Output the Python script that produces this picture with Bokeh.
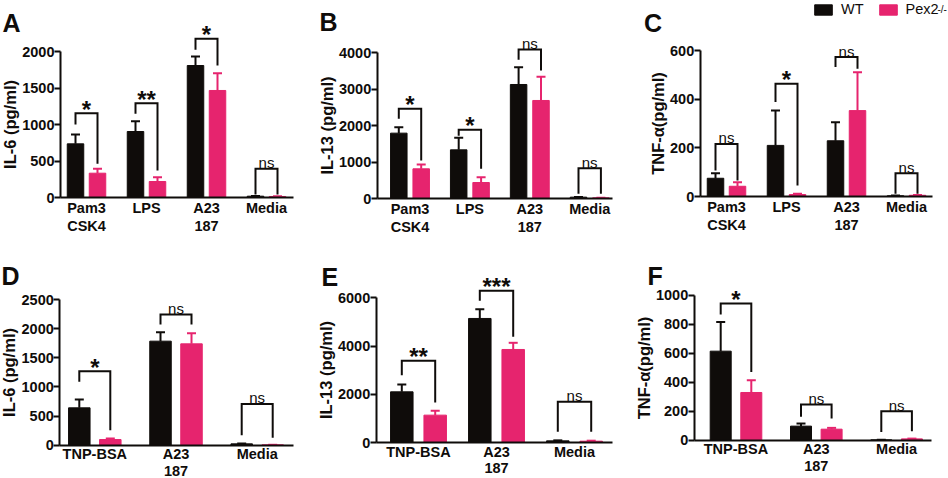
import numpy as np
from bokeh.plotting import figure
from bokeh.models import (ColumnDataSource, Whisker, TeeHead, Range1d, FixedTicker,
                          Label, Legend, LegendItem)
from bokeh.layouts import column, row
from bokeh.embed import file_html
from bokeh.resources import INLINE
from bokeh.core.properties import value

# ---------------- data ----------------
groups_top = ["Pam3\nCSK4", "LPS", "A23\n187", "Media"]
groups_bot = ["TNP-BSA", "A23\n187", "Media"]

a_wt = [735, 904, 1808, 18]
a_wt_err = [128, 142, 124, 4]
a_ko = [333, 219, 1466, 14]
a_ko_err = [60, 60, 237, 3]
a_sig = ["*", "**", "*", "ns"]
a_brk_top = [1155, 1292, 2173, 393]
a_brk_wt = [1000, 1146, 2023, 41]
a_brk_ko = [461, 370, 1808, 41]
a_ticks = [0, 500, 1000, 1500, 2000]

b_wt = [1794, 1336, 3130, 37]
b_wt_err = [165, 330, 476, 5]
b_ko = [815, 439, 2691, 18]
b_ko_err = [119, 147, 650, 5]
b_sig = ["*", "*", "ns", "ns"]
b_brk_top = [2462, 1886, 4092, 833]
b_brk_wt = [2188, 1720, 3808, 128]
b_brk_ko = [1043, 815, 3515, 128]
b_ticks = [0, 1000, 2000, 3000, 4000]

c_wt = [75, 210, 229, 3]
c_wt_err = [21, 143, 76, 1]
c_ko = [42, 8, 353, 5]
c_ko_err = [17, 3, 158, 1]
c_sig = ["ns", "*", "ns", "ns"]
c_brk_top = [216, 463, 573, 96]
c_brk_wt = [107, 388, 532, 11]
c_brk_ko = [66, 45, 525, 11]
c_ticks = [0, 200, 400, 600]

d_wt = [641, 1785, 23]
d_wt_err = [143, 154, 5]
d_ko = [97, 1739, 5]
d_ko_err = [17, 183, 2]
d_sig = ["*", "ns", "ns"]
d_brk_top = [1270, 2243, 709]
d_brk_wt = [1087, 2071, 172]
d_brk_ko = [257, 2071, 126]
d_ticks = [0, 500, 1000, 1500, 2000, 2500]

e_wt = [2101, 5143, 69]
e_wt_err = [305, 387, 20]
e_ko = [1134, 3857, 55]
e_ko_err = [179, 277, 20]
e_sig = ["**", "***", "ns"]
e_brk_top = [3387, 6290, 1687]
e_brk_wt = [2793, 5876, 442]
e_brk_ko = [1659, 4383, 442]
e_ticks = [0, 2000, 4000, 6000]

f_wt = [614, 97, 2]
f_wt_err = [202, 18, 1]
f_ko = [329, 76, 9]
f_ko_err = [85, 9, 2]
f_sig = ["*", "ns", "ns"]
f_brk_top = [943, 246, 200]
f_brk_wt = [867, 161, 57]
f_brk_ko = [471, 149, 62]
f_ticks = [0, 200, 400, 600, 800, 1000]

series_names = ["WT", "Pex2"]

# ---------------- style ----------------
BLACK = "#0f0c0a"
PINK = "#e6246e"
FONT = "Liberation Sans"

c_ref = [(0, 310), (310, 628), (628, 948)]
c_pg = [0, 310, 628, 948]
r_ref = [(0, 238), (238, 478)]
r_pg = [0, 238, 478]


def panel(ci, ri, geo, cats, wt, wt_err, ko, ko_err, sig, btop, bwt, bko,
          ticks, ylabel, letter, letter_pos, legend=False):
    yaxis, xend, y0, ytop, first, sp, bw, off = geo
    W = c_pg[ci + 1] - c_pg[ci]
    H = r_pg[ri + 1] - r_pg[ri]
    c0 = c_ref[ci][0]
    r0 = r_ref[ri][0]
    sxc = W / (c_ref[ci][1] - c_ref[ci][0])
    syc = H / (r_ref[ri][1] - r_ref[ri][0])
    x_axis0 = 1 - first / sp
    xa = x_axis0 - (yaxis - c0) / sp
    x_end = xa + W / (sp * sxc)
    v0 = (y0 - r0) * syc
    upp = ticks[-1] / ((y0 - ytop) * syc)
    y_top = v0 * upp
    y_bot = (v0 - H) * upp

    def xd(X):
        return xa + (X - c0) / sp

    def yd(Y):
        return (v0 - (Y - r0) * syc) * upp

    p = figure(width=W, height=H, x_range=Range1d(xa, x_end),
               y_range=Range1d(y_bot, y_top), min_border_left=0, min_border_right=0,
               min_border_top=0, min_border_bottom=0, output_backend="svg",
               toolbar_location=None, tools="")
    p.outline_line_color = None
    p.xgrid.visible = False
    p.ygrid.visible = False
    p.background_fill_color = "white"
    p.border_fill_color = "white"

    n = len(cats)
    xs = np.arange(1, n + 1, dtype=float)
    o = off / sp
    w = bw / sp
    xw = xs - o
    xk = xs + o
    r_wt = p.vbar(x=xw, top=wt, width=w, bottom=0, fill_color=BLACK, line_color=BLACK)
    r_ko = p.vbar(x=xk, top=ko, width=w, bottom=0, fill_color=PINK, line_color=PINK)

    for xx, yy, ee, col in ((xw, wt, wt_err, BLACK), (xk, ko, ko_err, PINK)):
        src = ColumnDataSource(dict(base=xx, lower=np.array(yy, float),
                                    upper=np.array(yy, float) + np.array(ee, float)))
        wh = Whisker(base="base", lower="lower", upper="upper", source=src,
                     dimension="height", line_color=col, line_width=2,
                     upper_head=TeeHead(size=9, line_color=col, line_width=2),
                     lower_head=None, level="glyph")
        p.add_layout(wh)

    bxs = [[a, a, b, b] for a, b in zip(xw, xk)]
    bys = [[l, t, t, r] for l, t, r in zip(bwt, btop, bko)]
    p.multi_line(xs=bxs, ys=bys, line_color=BLACK, line_width=2, line_join="miter")

    star_x = [x for x, s in zip(xs, sig) if s != "ns"]
    star_y = [t for t, s in zip(btop, sig) if s != "ns"]
    star_t = [s for s in sig if s != "ns"]
    ns_x = [x for x, s in zip(xs, sig) if s == "ns"]
    ns_y = [t for t, s in zip(btop, sig) if s == "ns"]
    ns_t = [s for s in sig if s == "ns"]
    if star_t:
        p.text(x=star_x, y=star_y, text=star_t, text_font=value(FONT),
               text_font_size="24px", text_font_style="bold", text_align="center",
               text_baseline="alphabetic", y_offset=-4, text_color=BLACK)
    if ns_t:
        p.text(x=ns_x, y=ns_y, text=ns_t, text_font=value(FONT),
               text_font_size="15px", text_align="center",
               text_baseline="alphabetic", y_offset=-6, text_color=BLACK)

    # axes
    ya = p.yaxis[0]
    ya.fixed_location = x_axis0
    ya.ticker = FixedTicker(ticks=ticks)
    ya.bounds = (0, ticks[-1])
    ya.axis_line_width = 2
    ya.axis_line_color = BLACK
    ya.major_tick_line_width = 2
    ya.major_tick_line_color = BLACK
    ya.major_tick_out = 6
    ya.major_tick_in = 0
    ya.minor_tick_line_color = None
    ya.major_label_standoff = 0
    ya.major_label_text_font = FONT
    ya.major_label_text_font_size = "14.5px"
    ya.major_label_text_font_style = "bold"
    ya.major_label_text_color = BLACK
    ya.axis_label = ylabel
    ya.axis_label_text_font = FONT
    ya.axis_label_text_font_size = "16.5px"
    ya.axis_label_text_font_style = "bold"
    ya.axis_label_text_color = BLACK
    ya.axis_label_standoff = 0

    xa_ = p.xaxis[0]
    xa_.fixed_location = 0
    xa_.ticker = FixedTicker(ticks=list(xs))
    xa_.major_label_overrides = {int(i + 1): c for i, c in enumerate(cats)}
    xa_.bounds = (x_axis0, xd(xend))
    xa_.axis_line_width = 2
    xa_.axis_line_color = BLACK
    xa_.major_tick_line_color = None
    xa_.major_tick_out = 0
    xa_.major_tick_in = 0
    xa_.minor_tick_line_color = None
    xa_.major_label_standoff = 2 if ri == 0 else 1
    xa_.major_label_text_font = FONT
    xa_.major_label_text_font_size = "14.5px"
    xa_.major_label_text_font_style = "bold"
    xa_.major_label_text_color = BLACK
    xa_.major_label_text_line_height = 1.15 if ri == 0 else 1.03

    lx, lb = letter_pos
    p.add_layout(Label(x=xd(lx), y=yd(lb), text=letter, text_font=FONT,
                       text_font_size="25px", text_font_style="bold",
                       text_baseline="alphabetic", text_align="left", text_color=BLACK))

    if legend:
        leg = Legend(items=[LegendItem(label=series_names[0], renderers=[r_wt]),
                            LegendItem(label=series_names[1], renderers=[r_ko])],
                     orientation="horizontal",
                     location=((812 - c0) * sxc, H - (17 - r0) * syc),
                     glyph_width=22, glyph_height=13, label_height=13,
                     label_standoff=7, spacing=13, padding=0, margin=0,
                     border_line_color=None, background_fill_alpha=0,
                     label_text_font=FONT, label_text_font_size="14.5px",
                     label_text_baseline="middle", label_text_color=BLACK)
        p.add_layout(leg)
        p.add_layout(Label(x=xd(937), y=yd(9), text="-/-", text_font=FONT,
                           text_font_size="10px", text_baseline="alphabetic",
                           text_align="left", text_color=BLACK))
    return p


pA = panel(0, 0, (60, 293, 197, 51, 26, 60, 16.5, 11), groups_top,
           a_wt, a_wt_err, a_ko, a_ko_err, a_sig, a_brk_top, a_brk_wt, a_brk_ko,
           a_ticks, "IL-6 (pg/ml)", "A", (2, 22))
pB = panel(1, 0, (376.7, 611.7, 198, 52.3, 32.8, 59.9, 16.5, 11.2), groups_top,
           b_wt, b_wt_err, b_ko, b_ko_err, b_sig, b_brk_top, b_brk_wt, b_brk_ko,
           b_ticks, "IL-13 (pg/ml)", "B", (319, 21))
pC = panel(2, 0, (699.7, 932, 196, 50, 26.3, 60, 16.5, 11), groups_top,
           c_wt, c_wt_err, c_ko, c_ko_err, c_sig, c_brk_top, c_brk_wt, c_brk_ko,
           c_ticks, "TNF-α(pg/ml)", "C", (643.5, 22), legend=True)
pD = panel(0, 1, (59.3, 292.7, 444.7, 299, 35, 81.2, 21.5, 15.5), groups_bot,
           d_wt, d_wt_err, d_ko, d_ko_err, d_sig, d_brk_top, d_brk_wt, d_brk_ko,
           d_ticks, "IL-6 (pg/ml)", "D", (1, 275))
pE = panel(1, 1, (375.7, 611.7, 442, 297.3, 42.3, 78, 22.5, 16.7), groups_bot,
           e_wt, e_wt_err, e_ko, e_ko_err, e_sig, e_brk_top, e_brk_wt, e_brk_ko,
           e_ticks, "IL-13 (pg/ml)", "E", (321, 276))
pF = panel(2, 1, (693.7, 931, 439.7, 294.7, 41.8, 80.3, 21, 15.3), groups_bot,
           f_wt, f_wt_err, f_ko, f_ko_err, f_sig, f_brk_top, f_brk_wt, f_brk_ko,
           f_ticks, "TNF-α(pg/ml)", "F", (647, 275))

layout = column(row(pA, pB, pC), row(pD, pE, pF))
open("out.html", "w").write(file_html(layout, INLINE))
